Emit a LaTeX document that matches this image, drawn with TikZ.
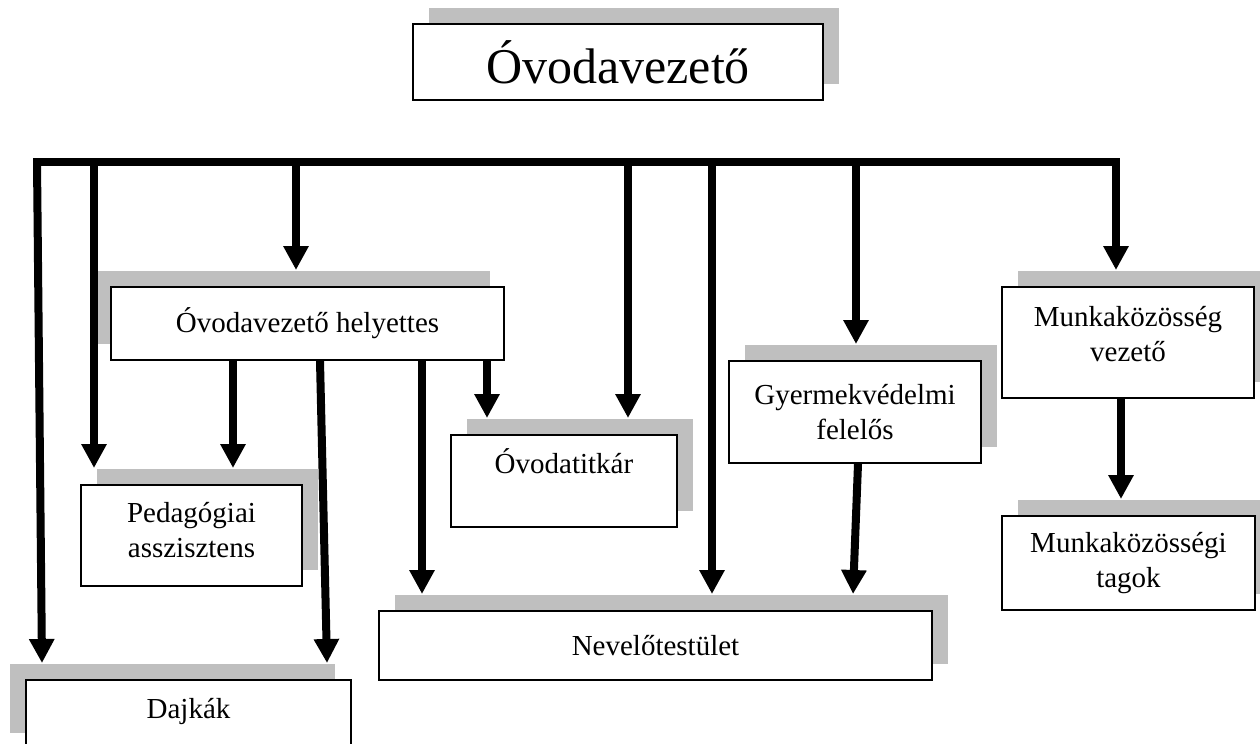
\documentclass[tikz,border=0pt]{standalone}
\usepackage{fontspec}
\setmainfont{Liberation Serif}
\usetikzlibrary{arrows.meta,shadows}
\definecolor{shadowgray}{HTML}{BFBFBF}

\begin{document}
\begin{tikzpicture}[x=0.4pt,y=-0.4pt]
	\tikzstyle{unit}=[rectangle,draw=black,line width=0.8pt,fill=white,inner sep=2pt,align=center,font=\fontsize{11.6}{14}\selectfont]
	\tikzstyle{shR}=[general shadow={shadow xshift=6.4pt,shadow yshift=6.4pt,fill=shadowgray}]
	\tikzstyle{shL}=[general shadow={shadow xshift=-6.4pt,shadow yshift=6.4pt,fill=shadowgray}]
	\tikzstyle{edge}=[draw,line width=3.2pt,-{Triangle[width=9.6pt,length=9.6pt]}]
	\useasboundingbox (0,0) rectangle (1260,743);
	\begin{scope}
		% boxes
		\node [unit,shR,minimum width=164pt,minimum height=30.4pt,font=\fontsize{20}{24}\selectfont] (vez) at (618,62) {Óvodavezető};
		\node [unit,general shadow={shadow xshift=-5.6pt,shadow yshift=6.4pt,fill=shadowgray},minimum width=157.2pt,minimum height=29.2pt] (helyettes) at (307.5,323.5) {Óvodavezető helyettes};
		\node [unit,shR,minimum width=88.4pt,minimum height=40.4pt,text depth=4.8pt] (pedas) at (191.5,535.5) {Pedagógiai\\asszisztens};
		\node [unit,shL,minimum width=130pt,minimum height=27.6pt,text depth=5.2pt] (dajkak) at (188.5,714.5) {Dajkák};
		\node [unit,shR,minimum width=90.4pt,minimum height=36.8pt,text height=13.2pt,text depth=19.6pt] (titkar) at (564,481) {Óvodatitkár};
		\node [unit,shR,minimum width=221.2pt,minimum height=27.6pt] (nevtest) at (655.5,645.5) {Nevelőtestület};
		\node [unit,shR,minimum width=100.8pt,minimum height=40.8pt] (gyved) at (855,412) {Gyermekvédelmi\\felelős};
		\node [unit,shR,minimum width=100.8pt,minimum height=44.4pt,text depth=7.2pt] (mkvez) at (1128,342.5) {Munkaközösség\\vezető};
		\node [unit,shR,minimum width=101.2pt,minimum height=37.6pt] (mktagok) at (1128.5,563) {Munkaközösségi\\tagok};
		% bar
		\coordinate (b1) at (37,162);
		\coordinate (b2) at (94,162);
		\coordinate (b3) at (296,162);
		\coordinate (b4) at (628,162);
		\coordinate (b5) at (712,162);
		\coordinate (b6) at (856,162);
		\coordinate (b7) at (1116,162);
		\draw [line width=3.2pt,line cap=rect] (b1) -- (b7);
		\path[edge] (b1) -- ([xshift=-58.6pt,yshift=6.4pt]dajkak.north);
		\path[edge] (b2) -- ([yshift=6.4pt]b2 |- pedas.north);
		\path[edge] (b3) -- ([yshift=6.4pt]b3 |- helyettes.north);
		\path[edge] (b4) -- ([yshift=6.4pt]b4 |- titkar.north);
		\path[edge] (b5) -- ([yshift=6.4pt]b5 |- nevtest.north);
		\path[edge] (b6) -- ([yshift=6.4pt]b6 |- gyved.north);
		\path[edge] (b7) -- ([yshift=6.4pt]b7 |- mkvez.north);
		% from the deputy
		\coordinate (h1) at ([xshift=-29.8pt]helyettes.south);
		\coordinate (h2) at ([xshift=5pt]helyettes.south);
		\coordinate (h3) at ([xshift=45.8pt]helyettes.south);
		\coordinate (h4) at ([xshift=71.8pt]helyettes.south);
		\path[edge] (h1) -- ([yshift=6.4pt]h1 |- pedas.north);
		\path[edge] (h2) -- ([xshift=55.4pt,yshift=6.4pt]dajkak.north);
		\path[edge] (h3) -- ([yshift=6.4pt]h3 |- nevtest.north);
		\path[edge] (h4) -- ([yshift=6.4pt]h4 |- titkar.north);
		\path[edge] ([xshift=1.2pt]gyved.south) -- ([xshift=79pt,yshift=6.4pt]nevtest.north);
		\path[edge] ([xshift=-2.8pt]mkvez.south) -- ([xshift=-3pt,yshift=6.4pt]mktagok.north);
	\end{scope}
\end{tikzpicture}
\end{document}
